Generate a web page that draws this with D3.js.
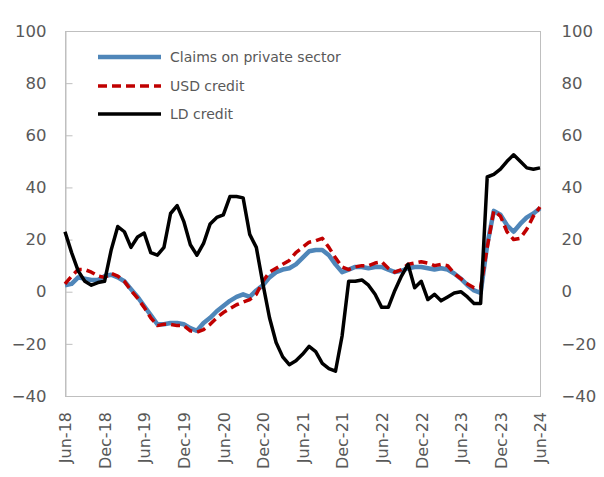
<!DOCTYPE html>
<html>
<head>
<meta charset="utf-8">
<script src="https://cdn.jsdelivr.net/npm/d3@7"></script>
<style>
  html, body { margin: 0; padding: 0; background: #ffffff; }
  svg { display: block; }
  text { font-family: "DejaVu Sans", Verdana, sans-serif; fill: #595959; }
</style>
</head>
<body>
<svg id="chart" width="604" height="477"></svg>
<script>
// Monthly observations, Jun-18 through Jun-24 (year-on-year %, 73 months)
const claimsPrivate = [
  2.5, 3, 5.5, 5, 4.5, 4.5, 6, 6.5, 5.5, 4, 1, -2,
  -5.5, -9, -12.5, -12.5, -12, -12, -12.5, -14, -15, -12, -10, -7.5,
  -5.5, -3.5, -2, -1, -2, 0.5, 2.5, 5.5, 7.5, 8.5, 9, 10.5,
  13, 15.5, 16, 16, 14, 10.5, 7.5, 8.5, 9.5, 9.5, 9, 9.5,
  9.5, 8.5, 7.5, 8, 9, 9.5, 9.5, 9, 8.5, 9, 8.5, 7,
  5, 2.5, 0.5, -0.5, 18, 31, 29.5, 25.5, 23, 26, 28.5, 30,
  32
];
const usdCredit = [
  3, 6, 8.5, 8.5, 7.5, 6, 5.5, 7, 6, 4, 0.5, -2.5,
  -6, -10, -13, -12.5, -12.5, -13, -13, -15, -15.5, -14.5, -12.5, -10,
  -8, -6.5, -5, -4, -3, -1, 4, 7.5, 9, 10.5, 12, 15,
  17, 19, 19.5, 20.5, 17, 13, 9.5, 8.5, 9.5, 10, 10, 11,
  11.5, 9, 7.5, 8.5, 10.5, 11, 11.5, 11, 10, 10.5, 10, 7,
  5, 3, 1.5, 1.5, 17, 31, 29, 23, 20, 20.5, 24, 29,
  32.5
];
const ldCredit = [
  23, 15, 8, 4, 2.5, 3.5, 4, 16, 25, 23, 17, 21,
  22.5, 15, 14, 17, 30, 33, 27, 18, 14, 18.5, 26, 28.5,
  29.5, 36.5, 36.5, 36, 22, 17, 3, -10, -19.5, -25, -28, -26.5,
  -24, -21, -23, -27.5, -29.5, -30.5, -17, 4, 4, 4.5, 2.5, -1,
  -6, -6, 0.5, 6, 10.5, 1.5, 4, -3, -1, -3.5, -2, -0.5,
  0, -2, -4.5, -4.5, 44, 45, 47, 50, 52.5, 50, 47.5, 47,
  47.5
];
const tickLabels = ["Jun-18", "Dec-18", "Jun-19", "Dec-19", "Jun-20", "Dec-20", "Jun-21",
                    "Dec-21", "Jun-22", "Dec-22", "Jun-23", "Dec-23", "Jun-24"];
const yTicks = [-40, -20, 0, 20, 40, 60, 80, 100];
const seriesNames = ["Claims on private sector", "USD credit", "LD credit"];

const svg = d3.select("#chart");
const plot = { left: 65, right: 540, top: 31, bottom: 396 };
const font = "DejaVu Sans, Verdana, sans-serif";

const n = claimsPrivate.length;
const x = d3.scaleLinear().domain([0, n - 1]).range([plot.left, plot.right]);
const y = d3.scaleLinear().domain([-40, 100]).range([plot.bottom, plot.top]);

// plot frame
svg.append("rect")
  .attr("x", plot.left + 0.5).attr("y", plot.top + 0.5)
  .attr("width", plot.right - plot.left).attr("height", plot.bottom - plot.top)
  .attr("fill", "none").attr("stroke", "#bfbfbf").attr("stroke-width", 1);

// left axis: inner tick marks and labels
const leftAxis = d3.axisLeft(y).tickValues(yTicks).tickSize(-7).tickPadding(19);
const gl = svg.append("g").attr("transform", `translate(${plot.left + 0.5},0)`).call(leftAxis);
gl.select(".domain").attr("stroke", "#bfbfbf");
gl.selectAll(".tick line").attr("stroke", "#bfbfbf");
gl.selectAll(".tick text").attr("font-size", 16.5).attr("fill", "#595959")
  .attr("font-family", font);

// right axis: labels only
const rightAxis = d3.axisRight(y).tickValues(yTicks).tickSize(0).tickPadding(21);
const gr = svg.append("g").attr("transform", `translate(${plot.right + 0.5},0)`).call(rightAxis);
gr.select(".domain").remove();
gr.selectAll(".tick text").attr("font-size", 16.5).attr("fill", "#595959")
  .attr("font-family", font);

// x axis: rotated labels every six months
const tickIdx = tickLabels.map((_, i) => i * 6);
const xAxis = d3.axisBottom(x).tickValues(tickIdx).tickSize(0)
  .tickFormat((d, i) => tickLabels[i]);
const gx = svg.append("g").attr("transform", `translate(0,${plot.bottom})`).call(xAxis);
gx.select(".domain").remove();
gx.selectAll(".tick text")
  .attr("font-size", 16).attr("fill", "#595959")
  .attr("font-family", font)
  .attr("text-anchor", "end")
  .attr("transform", "rotate(-90)")
  .attr("x", -16).attr("y", 0).attr("dy", "0.36em");

// series lines
const line = d3.line().x((d, i) => x(i)).y(d => y(d));
const styles = [
  { data: claimsPrivate, color: "#4f86b9", width: 4.5, dash: null },
  { data: usdCredit, color: "#c00000", width: 3.5, dash: "9,5" },
  { data: ldCredit, color: "#000000", width: 3.5, dash: null }
];
styles.forEach(s => {
  svg.append("path").datum(s.data)
    .attr("d", line)
    .attr("fill", "none")
    .attr("stroke", s.color)
    .attr("stroke-width", s.width)
    .attr("stroke-linejoin", "round")
    .attr("stroke-dasharray", s.dash);
});

// legend
const legendY = [57, 86, 114];
const lg = svg.append("g");
styles.forEach((s, i) => {
  lg.append("line")
    .attr("x1", 98).attr("x2", 161)
    .attr("y1", legendY[i]).attr("y2", legendY[i])
    .attr("stroke", s.color).attr("stroke-width", s.width)
    .attr("stroke-dasharray", s.dash);
  lg.append("text")
    .attr("x", 170).attr("y", legendY[i]).attr("dy", "0.35em")
    .attr("font-size", 14)
    .attr("font-family", font)
    .text(seriesNames[i]);
});
</script>
</body>
</html>
